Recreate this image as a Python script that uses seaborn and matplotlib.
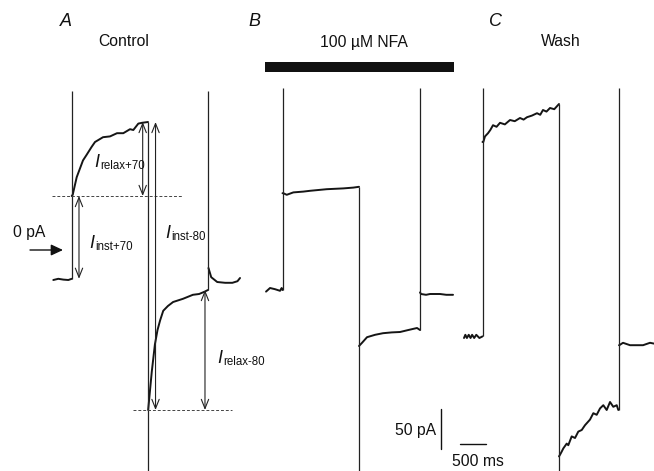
import numpy as np
import pandas as pd
import matplotlib
matplotlib.use("Agg")
import matplotlib.pyplot as plt
from matplotlib.patches import Rectangle
import seaborn as sns

# ---------------- data (time in ms relative to step onset, current in pA) -------------
panels = ["A", "B", "C"]
conditions = ["Control", "100 \u00b5M NFA", "Wash"]

A_base_t = [-354, -258, -162, -65, 0]
A_base_i = [-37.5, -36, -37, -37.5, -36]
A_dep_t = [0, 19, 96, 217, 287, 384, 448, 602, 737, 871, 992, 1121, 1185, 1281, 1352, 1467]
A_dep_i = [67.5, 69, 91, 112, 119, 129, 135, 141, 142, 146, 146, 151, 150, 158, 159, 160]
A_hyp_t = [1470, 1540, 1600, 1650, 1700, 1760, 1850, 1950, 2140, 2330, 2450, 2560, 2620]
A_hyp_i = [-200, -152, -118, -100, -88, -76, -70, -65, -61, -56, -55, -52, -50]
A_tail_t = [2630, 2683, 2750, 2798, 2950, 3090, 3188, 3237]
A_tail_i = [-22.5, -34, -37.5, -40, -41, -41, -39, -35]

B_base_t = [-317, -240, -144, -48, -16, 0]
B_base_i = [-52, -47.5, -49, -51, -47.5, -50]
B_dep_t = [0, 15, 81, 208, 400, 529, 850, 1169, 1362, 1471]
B_dep_i = [71, 71, 69, 72, 73, 74, 76, 77, 78, 79]
B_hyp_t = [1471, 1529, 1625, 1780, 1933, 2100, 2260, 2420, 2587, 2644]
B_hyp_i = [-120, -116, -109, -106, -104, -103, -102.5, -100, -97.5, -100]
B_tail_t = [2644, 2663, 2760, 2837, 3029, 3150, 3279]
B_tail_i = [-53, -55, -56, -55, -55, -56, -56]

C_base_t = [-356, -330, -300, -265, -230, -200, -160, -120, -60, 0]
C_base_i = [-110, -106, -110, -106, -110, -106, -110, -106, -110, -108]
C_dep_t = [0, 15, 48, 106, 150, 202, 270, 337, 430, 529, 620, 721, 790, 856, 950, 1048, 1110, 1163, 1230, 1298, 1380, 1471]
C_dep_i = [135, 135, 142, 146, 150, 156, 154, 159, 157, 162.5, 161, 165, 163, 166, 168, 171, 169, 175, 173, 177.5, 176, 182.5]
C_hyp_t = [1471, 1490, 1523, 1554, 1619, 1650, 1715, 1779, 1842, 1908, 1971, 2067, 2131,
           2196, 2260, 2323, 2388, 2452, 2515, 2581, 2612]
C_hyp_i = [-258, -256, -252, -248, -242, -244, -233, -235, -227, -225, -219, -212, -204,
           -206, -198, -194, -200, -190, -196, -194, -200]
C_tail_t = [2625, 2631, 2702, 2837, 2971, 3087, 3221, 3298]
C_tail_i = [-119, -119, -116, -119, -119, -119, -116, -117]

spike_top = [199, 202.5, 202.5]
spike_bottom = [-400, -400, -400]

scale_current = 50   # pA
scale_time = 500     # ms

# ---------------- layout ----------------
W, H = 654, 471
ms_per_px = 1 / 0.052
pA_per_px = 1 / 0.8
onset_ms = [1379, 5433, 9279]

sns.set_theme(style="white")
plt.rcParams["font.family"] = ["Liberation Sans", "DejaVu Sans"]

fig = plt.figure(figsize=(W / 100, H / 100), dpi=100)
ax = fig.add_axes([0, 0, 1, 1])
ax.set_xlim(0, W * ms_per_px)
ax.set_ylim(-(H - 250) * pA_per_px, 250 * pA_per_px)
ax.axis("off")

traces = {
    "A": [(A_base_t, A_base_i), (A_dep_t, A_dep_i), (A_hyp_t, A_hyp_i), (A_tail_t, A_tail_i)],
    "B": [(B_base_t, B_base_i), (B_dep_t, B_dep_i), (B_hyp_t, B_hyp_i), (B_tail_t, B_tail_i)],
    "C": [(C_base_t, C_base_i), (C_dep_t, C_dep_i), (C_hyp_t, C_hyp_i), (C_tail_t, C_tail_i)],
}

trace_color = "#151515"
for k, p in enumerate(panels):
    off = onset_ms[k]
    segs = traces[p]
    for j, (tt, ii) in enumerate(segs):
        df = pd.DataFrame({"t": np.asarray(tt, float) + off, "i": ii, "seg": j})
        sns.lineplot(data=df, x="t", y="i", ax=ax, color=trace_color, lw=1.4,
                     estimator=None, sort=False, legend=False)
    (bt, bi), (dt, di), (ht, hi), (tt_, ti) = segs
    # voltage-step transitions with capacitive transients
    ax.vlines(dt[0] + off, bi[-1], spike_top[k], color="#222222", lw=0.9)
    ax.vlines(ht[0] + off, spike_bottom[k], di[-1], color="#222222", lw=0.9)
    ax.vlines(tt_[0] + off, hi[-1], spike_top[k], color="#222222", lw=0.9)

# ---------------- annotations panel A ----------------
offA = onset_ms[0]
dash = (0, (3, 2))
ax.hlines(A_dep_i[0], offA - 379, offA + 2140, colors="#444444", lw=0.7, linestyles=dash)
ax.hlines(A_hyp_i[0], offA + 1179, offA + 3087, colors="#444444", lw=0.7, linestyles=dash)

arr = dict(arrowstyle="<->,head_length=0.55,head_width=0.22", lw=0.8, color="#222222",
           shrinkA=0, shrinkB=0)
def dbl(t, lo, hi):
    ax.annotate("", xy=(offA + t, hi), xytext=(offA + t, lo), arrowprops=arr)

dbl(140, A_base_i[-1], A_dep_i[0])      # I inst+70
dbl(1365, A_dep_i[0], A_dep_i[-1])      # I relax+70
dbl(1612, A_hyp_i[0], A_dep_i[-1])      # I inst-80
dbl(2563, A_hyp_i[0], A_hyp_i[-1])      # I relax-80

# 0 pA arrow
ax.annotate("", xy=(63 * ms_per_px, 0), xytext=(30 * ms_per_px, 0),
            arrowprops=dict(arrowstyle="-|>,head_length=0.6,head_width=0.28",
                            lw=1.0, color="#111111", shrinkA=0, shrinkB=0))

def ftext(x, y, s, **kw):
    fig.text(x / W, 1 - y / H, s, **kw)

ftext(13, 233, "0 pA", fontsize=11.3, ha="left", va="center", color="#111111")

def ilabel(x, y, sub):
    ftext(x, y, "I", fontsize=13, style="italic", ha="left", va="baseline", color="#111111")
    ftext(x + 6, y + 2, sub, fontsize=8.3, ha="left", va="baseline", color="#111111")

ilabel(94, 167, "relax+70")
ilabel(89, 248, "inst+70")
ilabel(165, 238, "inst-80")
ilabel(217, 363, "relax-80")

# panel letters and conditions
letter_x = [66, 254, 496]
cond_x = [124, 364, 561]
for k in range(3):
    ftext(letter_x[k], 21, panels[k], fontsize=13, style="italic", ha="center", va="center",
          color="#111111")
    ftext(cond_x[k], 42, conditions[k], fontsize=11.3, ha="center", va="center",
          color="#111111")

# drug application bar
ax.add_patch(Rectangle((265 * ms_per_px, (250 - 72) * pA_per_px),
                       (454 - 265) * ms_per_px, 10 * pA_per_px,
                       color="#111111", lw=0))

# scale bars
sb_t = 441 * ms_per_px
sb_i = (250 - 449) * pA_per_px
ax.plot([sb_t, sb_t], [sb_i, sb_i + scale_current], color="#111111", lw=1.0)
hb_t = 460 * ms_per_px
hb_i = (250 - 444) * pA_per_px
ax.plot([hb_t, hb_t + scale_time], [hb_i, hb_i], color="#111111", lw=1.0)
ftext(436, 430, f"{scale_current} pA", fontsize=11.3, ha="right", va="center", color="#111111")
ftext(478, 461, f"{scale_time} ms", fontsize=11.3, ha="center", va="center", color="#111111")

fig.savefig("out.png", dpi=100)
